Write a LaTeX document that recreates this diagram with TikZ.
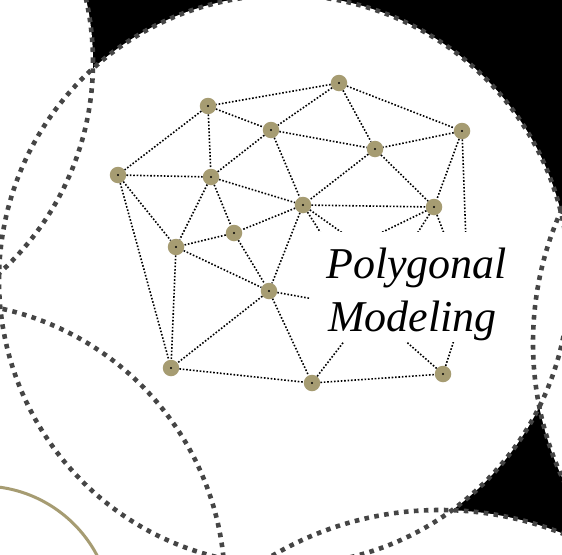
\documentclass[tikz,border=0pt]{standalone}
\usepackage{fontspec}
\setmainfont{Liberation Serif}
\definecolor{tanc}{HTML}{A69C72}
\definecolor{rimc}{HTML}{454545}
\begin{document}
\begin{tikzpicture}[x=1pt,y=-1pt,
  rimline/.style={draw=rimc, line width=4.6pt, dash pattern=on 4.6pt off 5.4pt},
  vert/.style={circle, fill=tanc, minimum size=16.5pt, inner sep=0pt,
    path picture={\fill[black] (path picture bounding box.center) circle[radius=1.1pt];}},
  edgeline/.style={draw=black, line width=1.6pt, dash pattern=on 1.6pt off 1.8pt},
  titletext/.style={anchor=base west, inner sep=0pt, font=\fontsize{44}{53}\selectfont\itshape}]
\useasboundingbox (0,0) rectangle (562,554);
\clip (0,0) rectangle (562,554);
\fill[black] (0,0) rectangle (562,554);
% white discs
\fill[white] (284,280) circle[radius=285pt];
\fill[white] (-192,62) circle[radius=285pt];
\fill[white] (-60,587) circle[radius=285pt];
\fill[white] (857,343) circle[radius=324pt];
\fill[white] (440,840) circle[radius=330pt];
% tan arc
\draw[tanc, line width=3pt] (-18,616) circle[radius=130pt];
% rims
\path[rimline] (284,280) circle[radius=285pt];
\path[rimline] (-192,62) circle[radius=285pt];
\path[rimline] (-60,587) circle[radius=285pt];
\path[rimline] (857,343) circle[radius=324pt];
\path[rimline] (440,840) circle[radius=330pt];
% vertices
\node[vert] (n1) at (339,83) {};
\node[vert] (n2) at (208,106) {};
\node[vert] (n3) at (271,130) {};
\node[vert] (n4) at (462,131) {};
\node[vert] (n5) at (375,149) {};
\node[vert] (n6) at (118,175) {};
\node[vert] (n7) at (211,177) {};
\node[vert] (n8) at (303,205) {};
\node[vert] (n9) at (434,207) {};
\node[vert] (n10) at (234,233) {};
\node[vert] (n11) at (176,247) {};
\node[vert] (n12) at (269,291) {};
\node[vert] (n13) at (171,368) {};
\node[vert] (n14) at (312,383) {};
\node[vert] (n15) at (443,374) {};
\coordinate (h1) at (358,244);
\coordinate (h2) at (369,309);
\coordinate (h3) at (468,297);
% edges
\foreach \a/\b in {n1/n2,n1/n3,n1/n5,n1/n4,n2/n3,n2/n6,n2/n7,n3/n7,n3/n8,n3/n5,
  n4/n5,n4/n9,n5/n8,n5/n9,n6/n7,n6/n11,n6/n13,n7/n8,n7/n11,n7/n10,
  n8/n10,n8/n12,n8/n9,n10/n11,n10/n12,n11/n12,n11/n13,n12/n13,n12/n14,
  n13/n14,n14/n15}
  \path[edgeline] (\a) -- (\b);
\foreach \a/\b in {n4/h3,n8/h1,n8/h2,n9/h1,n9/h2,n9/h3,n12/h2,n14/h2,n15/h2,n15/h3}
  \path[edgeline] (\a) -- (\b);
% label area
\fill[white] (310,232) rectangle (512,342);
\node[titletext] (t1) at (326,278.3) {Polygonal};
\node[titletext] (t2) at (328,331.7) {Modeling};
\end{tikzpicture}
\end{document}
